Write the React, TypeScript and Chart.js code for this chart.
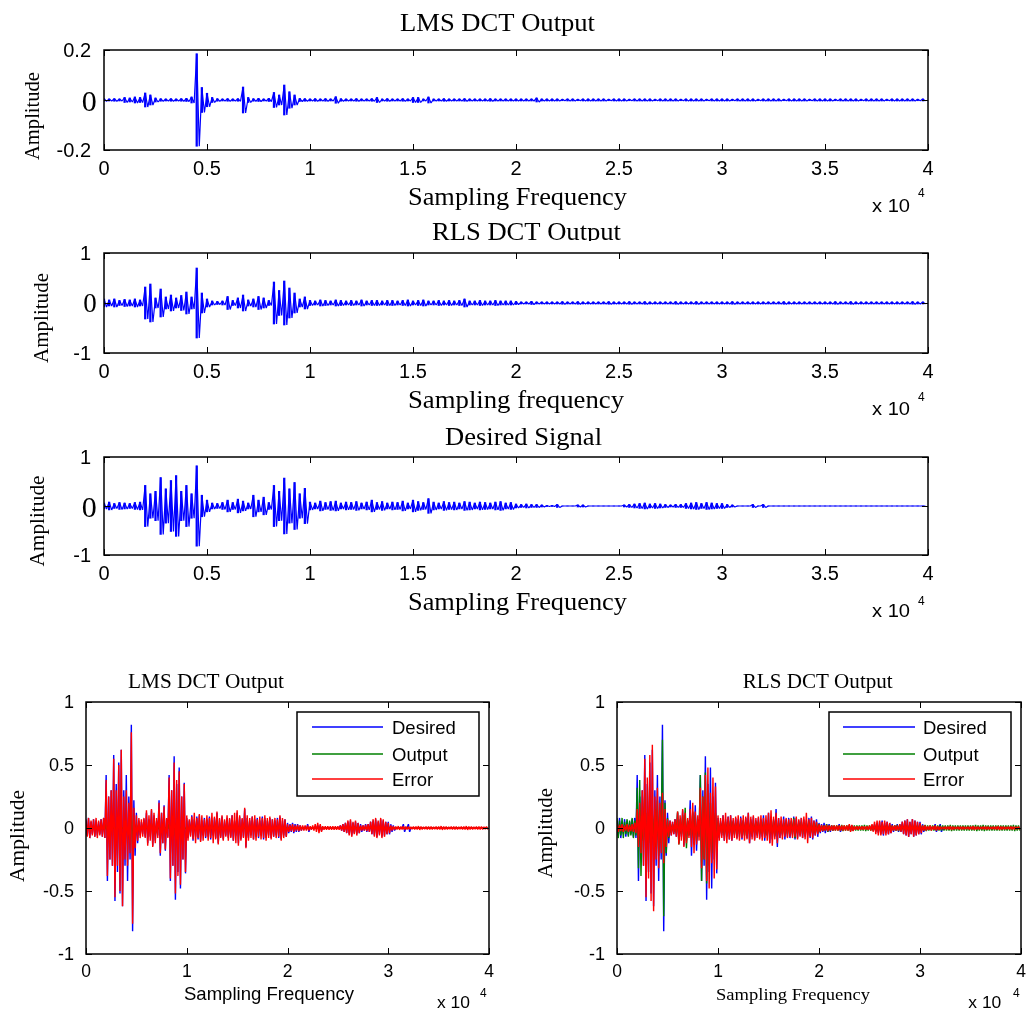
import React, { useEffect, useRef } from "react";
import { Chart, registerables } from "chart.js";

Chart.register(...registerables);

// ---------- data (peak amplitude per bin of 250 samples) ----------
const BIN = 250;

const desired = [
  0.06, 0.08, 0.05, 0.07, 0.06, 0.05, 0.07, 0.08,
  0.42, 0.25, 0.3, 0.58, 0.35, 0.52, 0.62, 0.3,
  0.42, 0.25, 0.82, 0.22, 0.12, 0.06, 0.05, 0.07,
  0.12, 0.07, 0.14, 0.1, 0.06, 0.22, 0.12, 0.18,
  0.07, 0.42, 0.3, 0.57, 0.35, 0.48, 0.25, 0.36,
  0.08, 0.06, 0.1, 0.07, 0.09, 0.1, 0.06, 0.08,
  0.07, 0.09, 0.06, 0.08, 0.12, 0.07, 0.09, 0.06,
  0.08, 0.07, 0.1, 0.06, 0.12, 0.09, 0.07, 0.15,
  0.08, 0.06, 0.09, 0.07, 0.08, 0.06, 0.09, 0.08,
  0.06, 0.08, 0.07, 0.06, 0.08, 0.09, 0.06, 0.07,
  0.04, 0.03, 0.04, 0.03, 0.03, 0.02, 0.01, 0.01,
  0.03, 0, 0, 0, 0.02, 0.02, 0, 0,
  0, 0, 0, 0, 0, 0.02, 0.03, 0.04,
  0.05, 0.06, 0.04, 0.05, 0.04, 0.03, 0.02, 0.03,
  0.03, 0.05, 0.06, 0.07, 0.05, 0.07, 0.06, 0.05,
  0.05, 0.03, 0.02, 0, 0, 0, 0.03, 0,
  0.03, 0, 0, 0, 0, 0, 0, 0,
  0, 0, 0, 0, 0, 0, 0, 0,
  0, 0, 0, 0, 0, 0, 0, 0,
  0, 0, 0, 0, 0, 0, 0, 0,
];

const lmsOutput = [
  0.005, 0.004, 0.005, 0.004, 0.01, 0.008, 0.012, 0.01,
  0.028, 0.02, 0.008, 0.005, 0.004, 0.005, 0.004, 0.005,
  0.006, 0.012, 0.185, 0.05, 0.027, 0.01, 0.005, 0.004,
  0.005, 0.004, 0.005, 0.052, 0.01, 0.005, 0.006, 0.004,
  0.006, 0.03, 0.02, 0.06, 0.033, 0.02, 0.006, 0.005,
  0.004, 0.005, 0.004, 0.005, 0.004, 0.013, 0.005, 0.004,
  0.004, 0.005, 0.004, 0.004, 0.005, 0.01, 0.004, 0.005,
  0.004, 0.004, 0.005, 0.004, 0.01, 0.01, 0.004, 0.012,
  0.004, 0.004, 0.005, 0.004, 0.004, 0.004, 0.005, 0.004,
  0.004, 0.004, 0.004, 0.005, 0.004, 0.004, 0.004, 0.004,
  0.004, 0.004, 0.004, 0.004, 0.008, 0.004, 0.004, 0.004,
  0.004, 0.003, 0.004, 0.004, 0.003, 0.004, 0.004, 0.004,
  0.004, 0.004, 0.003, 0.004, 0.004, 0.004, 0.003, 0.004,
  0.004, 0.004, 0.004, 0.003, 0.004, 0.004, 0.004, 0.004,
  0.003, 0.004, 0.004, 0.004, 0.004, 0.003, 0.004, 0.004,
  0.004, 0.004, 0.003, 0.004, 0.004, 0.004, 0.004, 0.003,
  0.004, 0.004, 0.004, 0.004, 0.003, 0.004, 0.004, 0.004,
  0.004, 0.003, 0.004, 0.004, 0.004, 0.004, 0.003, 0.004,
  0.004, 0.004, 0.004, 0.003, 0.004, 0.004, 0.004, 0.004,
  0.003, 0.004, 0.004, 0.004, 0.004, 0.004, 0.003, 0.004,
];

const rlsOutput = [
  0.08, 0.06, 0.08, 0.05, 0.07, 0.06, 0.08, 0.06,
  0.32, 0.38, 0.1, 0.28, 0.12, 0.16, 0.1, 0.15,
  0.22, 0.12, 0.7, 0.2, 0.08, 0.04, 0.03, 0.04,
  0.13, 0.05, 0.1, 0.16, 0.06, 0.08, 0.13, 0.1,
  0.05, 0.42, 0.25, 0.44, 0.3, 0.2, 0.08, 0.12,
  0.05, 0.04, 0.06, 0.05, 0.04, 0.06, 0.05, 0.04,
  0.05, 0.04, 0.06, 0.04, 0.05, 0.05, 0.04, 0.05,
  0.05, 0.04, 0.05, 0.06, 0.04, 0.05, 0.06, 0.04,
  0.04, 0.05, 0.04, 0.05, 0.04, 0.05, 0.08, 0.04,
  0.04, 0.05, 0.04, 0.04, 0.05, 0.04, 0.04, 0.04,
  0.03, 0.02, 0.02, 0.03, 0.02, 0.02, 0.02, 0.02,
  0.02, 0.025, 0.02, 0.02, 0.025, 0.02, 0.02, 0.02,
  0.02, 0.02, 0.025, 0.02, 0.02, 0.02, 0.025, 0.02,
  0.02, 0.025, 0.02, 0.02, 0.02, 0.02, 0.02, 0.025,
  0.02, 0.02, 0.02, 0.025, 0.02, 0.02, 0.02, 0.02,
  0.02, 0.02, 0.025, 0.02, 0.02, 0.02, 0.02, 0.02,
  0.02, 0.02, 0.02, 0.02, 0.025, 0.02, 0.02, 0.02,
  0.02, 0.02, 0.02, 0.02, 0.02, 0.02, 0.025, 0.02,
  0.02, 0.025, 0.02, 0.02, 0.02, 0.02, 0.02, 0.02,
  0.02, 0.02, 0.02, 0.02, 0.02, 0.025, 0.02, 0.02,
];

const lmsError = [
  0.07, 0.08, 0.06, 0.07, 0.08, 0.06, 0.07, 0.08,
  0.38, 0.25, 0.3, 0.55, 0.3, 0.5, 0.62, 0.25,
  0.3, 0.2, 0.76, 0.16, 0.1, 0.08, 0.07, 0.08,
  0.14, 0.1, 0.15, 0.12, 0.08, 0.2, 0.12, 0.17,
  0.08, 0.4, 0.3, 0.52, 0.38, 0.45, 0.25, 0.35,
  0.1, 0.07, 0.09, 0.12, 0.08, 0.11, 0.1, 0.07,
  0.1, 0.08, 0.12, 0.09, 0.13, 0.08, 0.1, 0.07,
  0.1, 0.08, 0.1, 0.12, 0.14, 0.1, 0.08, 0.16,
  0.1, 0.08, 0.09, 0.1, 0.07, 0.09, 0.08, 0.1,
  0.08, 0.09, 0.07, 0.08, 0.07, 0.1, 0.08, 0.07,
  0.03, 0.025, 0.03, 0.02, 0.025, 0.02, 0.02, 0.02,
  0.02, 0.015, 0.02, 0.03, 0.04, 0.03, 0.015, 0.015,
  0.015, 0.015, 0.015, 0.015, 0.015, 0.02, 0.03, 0.04,
  0.06, 0.07, 0.05, 0.06, 0.04, 0.02, 0.02, 0.025,
  0.03, 0.05, 0.07, 0.08, 0.06, 0.08, 0.07, 0.05,
  0.04, 0.02, 0.015, 0.012, 0.015, 0.012, 0.015, 0.012,
  0.012, 0.01, 0.012, 0.012, 0.015, 0.012, 0.01, 0.012,
  0.012, 0.012, 0.01, 0.012, 0.012, 0.015, 0.012, 0.012,
  0.01, 0.012, 0.012, 0.012, 0.01, 0.012, 0.012, 0.015,
  0.012, 0.012, 0.01, 0.012, 0.012, 0.012, 0.01, 0.012,
];

const rlsError = [
  0.03, 0.025, 0.03, 0.02, 0.03, 0.025, 0.03, 0.04,
  0.15, 0.2, 0.3, 0.55, 0.4, 0.58, 0.66, 0.25,
  0.32, 0.2, 0.28, 0.15, 0.07, 0.06, 0.05, 0.07,
  0.13, 0.1, 0.15, 0.12, 0.08, 0.15, 0.2, 0.13,
  0.1, 0.32, 0.25, 0.42, 0.48, 0.28, 0.4, 0.33,
  0.1, 0.08, 0.1, 0.12, 0.09, 0.1, 0.08, 0.09,
  0.1, 0.08, 0.1, 0.09, 0.12, 0.09, 0.1, 0.08,
  0.09, 0.1, 0.08, 0.1, 0.12, 0.14, 0.09, 0.12,
  0.08, 0.09, 0.07, 0.08, 0.07, 0.08, 0.07, 0.09,
  0.07, 0.08, 0.09, 0.12, 0.07, 0.08, 0.06, 0.05,
  0.03, 0.025, 0.02, 0.025, 0.02, 0.02, 0.02, 0.02,
  0.02, 0.02, 0.02, 0.02, 0.03, 0.025, 0.015, 0.015,
  0.015, 0.015, 0.015, 0.015, 0.02, 0.03, 0.05, 0.06,
  0.06, 0.05, 0.06, 0.05, 0.04, 0.02, 0.02, 0.02,
  0.03, 0.05, 0.06, 0.07, 0.05, 0.07, 0.06, 0.05,
  0.04, 0.02, 0.02, 0.015, 0.02, 0.015, 0.02, 0.015,
  0.012, 0.01, 0.012, 0.012, 0.015, 0.012, 0.01, 0.012,
  0.012, 0.012, 0.01, 0.012, 0.012, 0.015, 0.012, 0.012,
  0.01, 0.012, 0.012, 0.012, 0.01, 0.012, 0.012, 0.015,
  0.012, 0.012, 0.01, 0.012, 0.012, 0.012, 0.01, 0.012,
];

// ---------- ticks and labels ----------
const topXTicks = [0, 5000, 10000, 15000, 20000, 25000, 30000, 35000, 40000];
const topXLabels = ["0", "0.5", "1", "1.5", "2", "2.5", "3", "3.5", "4"];
const bottomXTicks = [0, 10000, 20000, 30000, 40000];
const bottomXLabels = ["0", "1", "2", "3", "4"];
const lmsYTicks = [-0.2, 0, 0.2];
const lmsYLabels = ["-0.2", "0", "0.2"];
const unitYTicks = [-1, 0, 1];
const unitYLabels = ["-1", "0", "1"];
const halfYTicks = [-1, -0.5, 0, 0.5, 1];
const halfYLabels = ["-1", "-0.5", "0", "0.5", "1"];
const legendNames = ["Desired", "Output", "Error"];
const BLUE = "#0000ff";
const GREEN = "#008000";
const RED = "#ff0000";

const SERIF = '"Liberation Serif", "Times New Roman", serif';
const SANS = '"Liberation Sans", Arial, sans-serif';

type TextItem = {
  text: string;
  x: number;
  y: number;
  font: string;
  align: CanvasTextAlign;
  width?: number;
  rotate?: boolean;
  clipBottom?: number;
};

type SeriesSpec = { label: string; values: number[]; color: string; order: number };

type PanelSpec = {
  left: number;
  top: number;
  width: number;
  height: number;
  area: { l: number; t: number; r: number; b: number };
  yMin: number;
  yMax: number;
  lineWidth: number;
  strokeBars: number; // width (px) of the per-bin min/max strokes, 0 = none
  xTicks: number[];
  xLabels: string[];
  xTickFont: string;
  xTickBase: number;
  yTicks: number[];
  yLabels: string[];
  yTickFont: string;
  yGap: number;
  yShift: number;
  zeroFont?: string;
  zeroGap?: number;
  zeroShift?: number;
  series: SeriesSpec[];
  texts: TextItem[];
  legend?: { l: number; t: number; r: number; b: number; lineL: number; lineR: number; textL: number; rows: number[] };
};

function trace(amps: number[]) {
  const pts: { x: number; y: number }[] = [];
  amps.forEach((a, i) => {
    pts.push({ x: i * BIN, y: a });
    pts.push({ x: i * BIN + BIN / 2, y: -a });
  });
  return pts;
}

function ranges(amps: number[]) {
  return amps.map((a, i) => ({ x: i * BIN, y: [-a, a] }));
}

const topCommon = {
  left: 0,
  width: 1026,
  lineWidth: 1.2,
  strokeBars: 1.6,
  xTicks: topXTicks,
  xLabels: topXLabels,
  xTickFont: `20px ${SANS}`,
  xTickBase: 25,
  yTickFont: `20px ${SANS}`,
  yGap: 13,
  yShift: 7.2,
  zeroGap: 7.3,
};

const panels: PanelSpec[] = [
  {
    ...topCommon,
    top: 0,
    height: 218,
    area: { l: 104, t: 50, r: 928, b: 150 },
    yMin: -0.2,
    yMax: 0.2,
    yTicks: lmsYTicks,
    yLabels: lmsYLabels,
    zeroFont: `30px ${SERIF}`,
    zeroShift: 11,
    series: [{ label: "LMS DCT Output", values: lmsOutput, color: BLUE, order: 1 }],
    texts: [
      { text: "LMS DCT Output", x: 497.5, y: 30.5, font: `25px ${SERIF}`, align: "center", width: 195 },
      { text: "Sampling Frequency", x: 517.5, y: 205, font: `25px ${SERIF}`, align: "center", width: 219 },
      { text: "Amplitude", x: 39, y: 116, font: `20.5px ${SERIF}`, align: "center", width: 88, rotate: true },
      { text: "x 10", x: 872, y: 212, font: `19px ${SANS}`, align: "left", width: 38 },
      { text: "4", x: 918, y: 197, font: `12px ${SANS}`, align: "left" },
    ],
  },
  {
    ...topCommon,
    top: 218,
    height: 200,
    area: { l: 104, t: 253, r: 928, b: 353 },
    yMin: -1,
    yMax: 1,
    yTicks: unitYTicks,
    yLabels: unitYLabels,
    zeroFont: `27px ${SERIF}`,
    zeroShift: 9,
    series: [{ label: "RLS DCT Output", values: rlsOutput, color: BLUE, order: 1 }],
    texts: [
      { text: "RLS DCT Output", x: 526.5, y: 240, font: `25px ${SERIF}`, align: "center", width: 189, clipBottom: 241 },
      { text: "Sampling frequency", x: 516, y: 408, font: `25px ${SERIF}`, align: "center", width: 216 },
      { text: "Amplitude", x: 47.5, y: 318, font: `20.5px ${SERIF}`, align: "center", width: 90, rotate: true },
      { text: "x 10", x: 872, y: 415, font: `19px ${SANS}`, align: "left", width: 38 },
      { text: "4", x: 918, y: 401, font: `12px ${SANS}`, align: "left" },
    ],
  },
  {
    ...topCommon,
    top: 418,
    height: 205,
    area: { l: 104, t: 457, r: 928, b: 555 },
    yMin: -1,
    yMax: 1,
    yTicks: unitYTicks,
    yLabels: unitYLabels,
    zeroFont: `30px ${SERIF}`,
    zeroShift: 10.5,
    series: [{ label: "Desired Signal", values: desired, color: BLUE, order: 1 }],
    texts: [
      { text: "Desired Signal", x: 523.5, y: 445, font: `25px ${SERIF}`, align: "center", width: 157 },
      { text: "Sampling Frequency", x: 517.5, y: 610, font: `25px ${SERIF}`, align: "center", width: 219 },
      { text: "Amplitude", x: 44, y: 521, font: `20.5px ${SERIF}`, align: "center", width: 91, rotate: true },
      { text: "x 10", x: 872, y: 617, font: `19px ${SANS}`, align: "left", width: 38 },
      { text: "4", x: 918, y: 605, font: `12px ${SANS}`, align: "left" },
    ],
  },
  {
    left: 0,
    top: 660,
    width: 513,
    height: 352,
    area: { l: 86, t: 702, r: 489, b: 954 },
    yMin: -1,
    yMax: 1,
    lineWidth: 1.4,
    strokeBars: 0,
    xTicks: bottomXTicks,
    xLabels: bottomXLabels,
    xTickFont: `17.5px ${SANS}`,
    xTickBase: 23,
    yTicks: halfYTicks,
    yLabels: halfYLabels,
    yTickFont: `18px ${SANS}`,
    yGap: 12,
    yShift: 6.4,
    series: [
      { label: legendNames[0], values: desired, color: BLUE, order: 3 },
      { label: legendNames[1], values: lmsOutput, color: GREEN, order: 2 },
      { label: legendNames[2], values: lmsError, color: RED, order: 1 },
    ],
    texts: [
      { text: "LMS DCT Output", x: 206, y: 688, font: `21px ${SERIF}`, align: "center", width: 156 },
      { text: "Sampling Frequency", x: 269, y: 1000, font: `18.5px ${SANS}`, align: "center", width: 170 },
      { text: "Amplitude", x: 24, y: 836, font: `21.5px ${SERIF}`, align: "center", width: 92, rotate: true },
      { text: "x 10", x: 437, y: 1008, font: `17px ${SANS}`, align: "left", width: 33 },
      { text: "4", x: 480, y: 997, font: `12px ${SANS}`, align: "left" },
    ],
    legend: { l: 297, t: 712, r: 479, b: 796, lineL: 312, lineR: 383, textL: 392, rows: [727, 754, 779] },
  },
  {
    left: 513,
    top: 660,
    width: 513,
    height: 352,
    area: { l: 617, t: 702, r: 1021, b: 954 },
    yMin: -1,
    yMax: 1,
    lineWidth: 1.4,
    strokeBars: 0,
    xTicks: bottomXTicks,
    xLabels: bottomXLabels,
    xTickFont: `17.5px ${SANS}`,
    xTickBase: 23,
    yTicks: halfYTicks,
    yLabels: halfYLabels,
    yTickFont: `18px ${SANS}`,
    yGap: 12,
    yShift: 6.4,
    series: [
      { label: legendNames[0], values: desired, color: BLUE, order: 3 },
      { label: legendNames[1], values: rlsOutput, color: GREEN, order: 2 },
      { label: legendNames[2], values: rlsError, color: RED, order: 1 },
    ],
    texts: [
      { text: "RLS DCT Output", x: 817.7, y: 688, font: `21px ${SERIF}`, align: "center", width: 150 },
      { text: "Sampling Frequency", x: 793, y: 1000, font: `17.5px ${SERIF}`, align: "center", width: 154 },
      { text: "Amplitude", x: 551.6, y: 833, font: `21.5px ${SERIF}`, align: "center", width: 90, rotate: true },
      { text: "x 10", x: 968.3, y: 1008, font: `17px ${SANS}`, align: "left", width: 33 },
      { text: "4", x: 1013, y: 997, font: `12px ${SANS}`, align: "left" },
    ],
    legend: { l: 829, t: 712, r: 1011, b: 796, lineL: 843, lineR: 915, textL: 923, rows: [727, 754, 779] },
  },
];

function drawText(ctx: CanvasRenderingContext2D, t: TextItem, ox: number, oy: number) {
  ctx.save();
  if (t.clipBottom !== undefined) {
    ctx.beginPath();
    ctx.rect(0, 0, ctx.canvas.width, t.clipBottom - oy);
    ctx.clip();
  }
  ctx.font = t.font;
  ctx.fillStyle = "#000";
  ctx.textBaseline = "alphabetic";
  ctx.textAlign = t.align;
  const w = ctx.measureText(t.text).width;
  let sx = t.width && w > 0 ? t.width / w : 1;
  sx = Math.max(0.8, Math.min(1.3, sx));
  ctx.translate(t.x - ox, t.y - oy);
  if (t.rotate) ctx.rotate(-Math.PI / 2);
  ctx.scale(sx, 1);
  ctx.fillText(t.text, 0, 0);
  ctx.restore();
}

function decorPlugin(p: PanelSpec) {
  return {
    id: "matlabDecor",
    afterDraw(chart: any) {
      const ctx: CanvasRenderingContext2D = chart.ctx;
      const xs = chart.scales.x;
      const ys = chart.scales.y;
      const { left: L, top: T, right: R, bottom: B } = chart.chartArea;
      const ox = p.left;
      const oy = p.top;
      ctx.save();

      // inner tick marks
      ctx.strokeStyle = "#000";
      ctx.lineWidth = 1;
      ctx.beginPath();
      p.xTicks.forEach((v) => {
        const px = Math.round(xs.getPixelForValue(v)) + 0.5;
        ctx.moveTo(px, B);
        ctx.lineTo(px, B - 6);
        ctx.moveTo(px, T);
        ctx.lineTo(px, T + 6);
      });
      p.yTicks.forEach((v) => {
        const py = Math.round(ys.getPixelForValue(v)) + 0.5;
        ctx.moveTo(L, py);
        ctx.lineTo(L + 6, py);
        ctx.moveTo(R, py);
        ctx.lineTo(R - 6, py);
      });
      ctx.stroke();

      // axes box
      ctx.lineWidth = 1.5;
      ctx.strokeRect(L, T, R - L, B - T);

      // tick labels
      ctx.fillStyle = "#000";
      ctx.textBaseline = "alphabetic";
      ctx.font = p.xTickFont;
      ctx.textAlign = "center";
      p.xTicks.forEach((v, i) => {
        ctx.fillText(p.xLabels[i], xs.getPixelForValue(v), B + p.xTickBase);
      });
      ctx.textAlign = "right";
      p.yTicks.forEach((v, i) => {
        const py = ys.getPixelForValue(v);
        if (v === 0 && p.zeroFont) {
          ctx.font = p.zeroFont;
          ctx.fillText(p.yLabels[i], L - (p.zeroGap ?? 7), py + (p.zeroShift ?? 10));
        } else {
          ctx.font = p.yTickFont;
          ctx.fillText(p.yLabels[i], L - p.yGap, py + p.yShift);
        }
      });

      // legend
      if (p.legend) {
        const lg = p.legend;
        const bx = lg.l - ox;
        const by = lg.t - oy;
        ctx.fillStyle = "#fff";
        ctx.fillRect(bx, by, lg.r - lg.l, lg.b - lg.t);
        ctx.strokeStyle = "#000";
        ctx.lineWidth = 1.5;
        ctx.strokeRect(bx, by, lg.r - lg.l, lg.b - lg.t);
        ctx.font = `18.5px ${SANS}`;
        ctx.textAlign = "left";
        p.series.forEach((s, i) => {
          const ry = lg.rows[i] - oy;
          ctx.strokeStyle = s.color;
          ctx.lineWidth = 1.5;
          ctx.beginPath();
          ctx.moveTo(lg.lineL - ox, ry);
          ctx.lineTo(lg.lineR - ox, ry);
          ctx.stroke();
          ctx.fillStyle = "#000";
          ctx.fillText(s.label, lg.textL - ox, ry + 7.3);
        });
      }

      // titles and axis labels
      p.texts.forEach((t) => drawText(ctx, t, ox, oy));
      ctx.restore();
    },
  };
}

function Panel({ p }: { p: PanelSpec }) {
  const ref = useRef<HTMLCanvasElement>(null);
  useEffect(() => {
    const canvas = ref.current;
    if (!canvas) return;
    const datasets: any[] = [];
    p.series.forEach((s) => {
      datasets.push({
        type: "line",
        label: s.label,
        data: trace(s.values),
        parsing: false,
        borderColor: s.color,
        backgroundColor: s.color,
        borderWidth: p.lineWidth,
        borderJoinStyle: "bevel",
        pointRadius: 0,
        fill: false,
        tension: 0,
        order: s.order,
      });
      if (p.strokeBars > 0) {
        datasets.push({
          type: "bar",
          label: s.label + " (min/max)",
          data: ranges(s.values),
          backgroundColor: s.color,
          borderWidth: 0,
          barThickness: p.strokeBars,
          order: s.order,
        });
      }
    });
    const chart = new Chart(canvas, {
      type: "line",
      data: { datasets },
      options: {
        responsive: false,
        animation: false,
        devicePixelRatio: 1,
        events: [],
        layout: {
          autoPadding: false,
          padding: {
            left: p.area.l - p.left,
            top: p.area.t - p.top,
            right: p.left + p.width - p.area.r,
            bottom: p.top + p.height - p.area.b,
          },
        },
        scales: {
          x: { type: "linear", min: 0, max: 40000, offset: false, display: false },
          y: { type: "linear", min: p.yMin, max: p.yMax, display: false },
        },
        plugins: {
          legend: { display: false },
          tooltip: { enabled: false },
          title: { display: false },
        },
      } as any,
      plugins: [decorPlugin(p)],
    });
    return () => chart.destroy();
  }, [p]);
  return (
    <canvas
      ref={ref}
      width={p.width}
      height={p.height}
      style={{ position: "absolute", left: p.left, top: p.top, width: p.width, height: p.height }}
    />
  );
}

export default function App() {
  return (
    <div style={{ position: "absolute", left: 0, top: 0, width: 1026, height: 1012, background: "#fff", overflow: "hidden" }}>
      {panels.map((p, i) => (
        <Panel key={i} p={p} />
      ))}
    </div>
  );
}
